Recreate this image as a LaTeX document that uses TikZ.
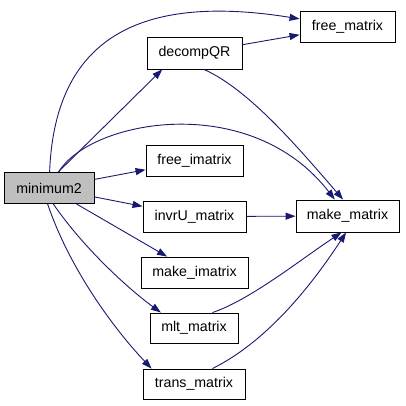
\documentclass[tikz,border=0pt]{standalone}
\usepackage{fontspec}
\setmainfont{Liberation Sans}
\usetikzlibrary{arrows.meta}

\definecolor{edgeblue}{HTML}{191970}
\definecolor{boxgray}{HTML}{BFBFBF}

\tikzset{
  fn/.style={draw=black,line width=0.9pt,rectangle,inner sep=0pt,minimum height=31pt,font=\fontsize{14.2}{16}\selectfont},
  call/.style={draw=edgeblue,line width=0.9pt,-{Triangle[length=10pt,width=7pt]}}
}

\begin{document}
\begin{tikzpicture}[x=1pt,y=-1pt]
\useasboundingbox (0,0) rectangle (405,406);
\node[fn,fill=boxgray,minimum width=90pt] (minimum2) at (49,188) {minimum2};
\node[fn,minimum width=95pt,minimum height=32pt] (decompQR) at (194.5,53) {decompQR};
\node[fn,minimum width=95pt] (freematrix) at (347.5,26.5) {free\_matrix};
\node[fn,minimum width=97pt] (freeimatrix) at (194.5,160.5) {free\_imatrix};
\node[fn,minimum width=103pt] (invrUmatrix) at (194.5,216.5) {invrU\_matrix};
\node[fn,minimum width=103pt,minimum height=32pt] (makematrix) at (347.5,216) {make\_matrix};
\node[fn,minimum width=107pt] (makeimatrix) at (194.5,272.5) {make\_imatrix};
\node[fn,minimum width=88pt,minimum height=30pt] (mltmatrix) at (194,328) {mlt\_matrix};
\node[fn,minimum width=102pt,minimum height=30pt] (transmatrix) at (194,384) {trans\_matrix};
% calls from minimum2
\draw[call] (minimum2) .. controls (55,30) and (150,-5) .. (freematrix);
\draw[call] (minimum2.60) -- (decompQR.207);
\draw[call] (minimum2) .. controls (90,120) and (250,90) .. (makematrix);
\draw[call] (minimum2) -- (freeimatrix);
\draw[call] (minimum2) -- (invrUmatrix);
\draw[call] (minimum2) -- (makeimatrix);
\draw[call] (minimum2.-75) .. controls (85,250) and (130,290) .. (mltmatrix.155);
\draw[call] (minimum2.-95) .. controls (70,270) and (115,330) .. (transmatrix.160);
% calls from the others
\draw[call] (decompQR) -- (freematrix);
\draw[call] (decompQR.-60) .. controls (250,90) and (300,150) .. (makematrix.105);
\draw[call] (invrUmatrix) -- (makematrix);
\draw[call] (mltmatrix.40) .. controls (250,300) and (300,260) .. (makematrix.-110);
\draw[call] (transmatrix.40) .. controls (270,340) and (315,280) .. (makematrix.-95);
\end{tikzpicture}
\end{document}
